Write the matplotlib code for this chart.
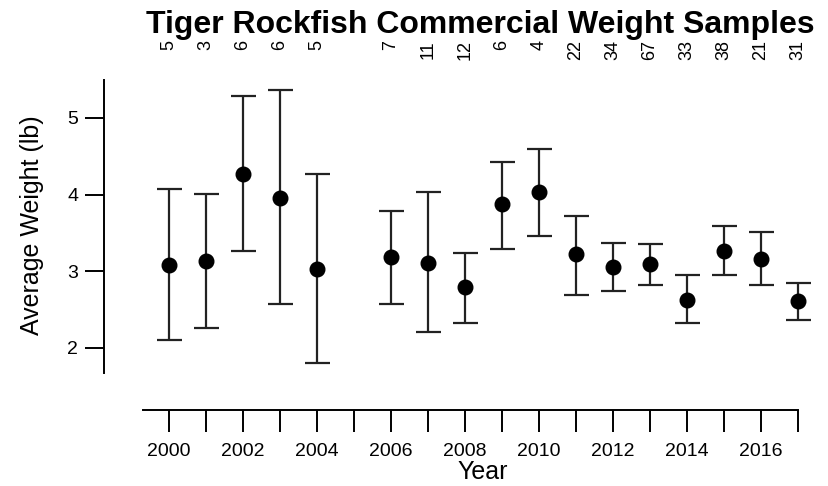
import numpy as np
import matplotlib
matplotlib.use('Agg')
import matplotlib.pyplot as plt
import matplotlib.transforms as mtransforms

plt.rcParams['font.family'] = ['Liberation Sans', 'DejaVu Sans']

years = [2000, 2001, 2002, 2003, 2004, 2006, 2007, 2008, 2009,
         2010, 2011, 2012, 2013, 2014, 2015, 2016, 2017]
mean_wt = [3.08, 3.13, 4.27, 3.95, 3.03, 3.19, 3.11, 2.80, 3.88,
           4.03, 3.22, 3.06, 3.09, 2.63, 3.27, 3.16, 2.61]
upper = [4.07, 4.01, 5.28, 5.36, 4.27, 3.79, 4.03, 3.24, 4.43,
         4.59, 3.72, 3.37, 3.35, 2.95, 3.59, 3.51, 2.85]
lower = [2.11, 2.26, 3.27, 2.58, 1.81, 2.58, 2.21, 2.32, 3.29,
         3.46, 2.69, 2.74, 2.82, 2.32, 2.95, 2.82, 2.37]
n_samples = ['5', '3', '6', '6', '5', '7', '11', '12', '6',
             '4', '22', '34', '67', '33', '38', '21', '31']
tick_years = list(range(2000, 2018))
tick_labels = [str(y) if y % 2 == 0 else '' for y in tick_years]

W, H = 829, 486
fig = plt.figure(figsize=(W / 100, H / 100), dpi=100)
ax = fig.add_axes([104 / W, 1 - 410 / H, (815 - 104) / W, 330 / H])

mean_wt = np.array(mean_wt)
yerr = [mean_wt - np.array(lower), np.array(upper) - mean_wt]
ax.errorbar(years, mean_wt, yerr=yerr, fmt='o', color='black',
            ecolor='#222222', markersize=10.5, elinewidth=1.6,
            capsize=9, capthick=1.6)

ax.set_xlim(1998.243, 2017.46)
ax.set_ylim(1.191, 5.495)

for s in ['top', 'right']:
    ax.spines[s].set_visible(False)
ax.spines['left'].set_bounds(1.674, 5.495)
ax.spines['bottom'].set_bounds(1999.3, 2017)
ax.spines['left'].set_linewidth(1.4)
ax.spines['bottom'].set_linewidth(1.4)

ax.set_yticks([2, 3, 4, 5])
ax.set_xticks(tick_years)
ax.set_xticklabels(tick_labels)
ax.tick_params(axis='y', length=13.7, width=1.4, pad=5, labelsize=14)
ax.tick_params(axis='x', length=15.8, width=1.4, pad=8, labelsize=14)

# sample sizes along the top
trans = mtransforms.blended_transform_factory(ax.transData, ax.transAxes)
for yr, n in zip(years, n_samples):
    ax.text(yr, 1 + 40 / 330, n, transform=trans, rotation=90,
            ha='center', va='top', fontsize=13)

fig.text(480 / W, 1 - 33 / H, 'Tiger Rockfish Commercial Weight Samples',
         ha='center', va='baseline', fontsize=23, fontweight='bold')
fig.text(32 / W, 1 - 225 / H, 'Average Weight (lb)', rotation=90,
         ha='center', va='center', fontsize=18)
fig.text(483 / W, 1 - 472 / H, 'Year', ha='center', va='center', fontsize=18)

fig.savefig('out.png', dpi=100)
